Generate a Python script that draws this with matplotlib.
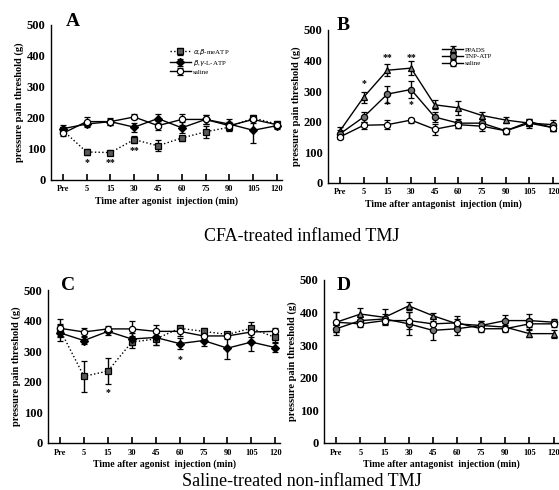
import matplotlib.pyplot as plt
import numpy as np

plt.rcParams['font.family'] = ['Liberation Serif', 'DejaVu Serif']

times = ['Pre', '5', '15', '30', '45', '60', '75', '90', '105', '120']

# Panel A: CFA-treated, agonists
a_me = [160, 90, 88, 130, 110, 135, 155, 170, 200, 180]
a_me_err = [12, 10, 8, 12, 18, 8, 20, 12, 10, 10]
a_bg = [165, 180, 188, 170, 198, 168, 195, 180, 160, 175]
a_bg_err = [12, 10, 10, 15, 15, 18, 15, 18, 40, 10]
a_sal = [150, 188, 188, 203, 175, 195, 195, 175, 195, 178]
a_sal_err = [10, 15, 12, 8, 15, 18, 15, 12, 10, 10]

# Panel B: CFA-treated, antagonists
b_ppads = [170, 280, 368, 375, 255, 245, 220, 205, 195, 180]
b_ppads_err = [12, 18, 20, 22, 15, 22, 12, 10, 10, 12]
b_tnp = [160, 215, 290, 305, 215, 195, 195, 170, 195, 190]
b_tnp_err = [12, 15, 28, 28, 15, 15, 15, 10, 15, 15]
b_sal = [150, 188, 190, 205, 175, 190, 185, 170, 200, 180]
b_sal_err = [8, 12, 15, 8, 18, 12, 15, 10, 10, 12]

# Panel C: saline-treated, agonists
c_me = [370, 218, 235, 330, 340, 375, 365, 355, 375, 345]
c_me_err = [20, 50, 42, 20, 20, 8, 10, 8, 20, 15]
c_bg = [360, 335, 365, 340, 345, 325, 335, 310, 330, 312]
c_bg_err = [25, 12, 12, 20, 25, 18, 18, 35, 30, 15]
c_sal = [375, 363, 373, 373, 365, 365, 350, 350, 363, 365]
c_sal_err = [30, 12, 10, 25, 20, 15, 10, 10, 15, 10]

# Panel D: saline-treated, antagonists
d_ppads = [370, 395, 385, 420, 390, 365, 360, 355, 335, 335]
d_ppads_err = [30, 20, 25, 12, 8, 15, 15, 12, 10, 12]
d_tnp = [350, 375, 380, 365, 345, 350, 360, 375, 375, 370]
d_tnp_err = [18, 15, 15, 35, 30, 18, 15, 18, 20, 10]
d_sal = [370, 365, 375, 375, 365, 368, 350, 350, 365, 365]
d_sal_err = [30, 10, 12, 25, 20, 20, 10, 10, 15, 10]

x = np.arange(len(times))
W, H = 559.0, 490.0

fig = plt.figure(figsize=(5.59, 4.9), dpi=100)
axA = fig.add_axes([0.091, 0.633, 0.413, 0.316])
axB = fig.add_axes([0.587, 0.627, 0.411, 0.312])
axC = fig.add_axes([0.086, 0.096, 0.415, 0.312])
axD = fig.add_axes([0.580, 0.096, 0.419, 0.333])


def series(ax, y, err, marker, fc, ls='-', label=None):
	ax.errorbar(x, y, yerr=err, color='black', ls=ls, lw=1.0, marker=marker,
		ms=4.5, mfc=fc, mec='black', mew=0.9, capsize=2.5, elinewidth=1.0,
		label=label)


def style(ax, xlabel):
	ax.set_xlim(-0.5, 9.2)
	ax.set_ylim(0, 500)
	ax.set_xticks(x)
	ax.set_xticklabels(times, fontsize=6, fontweight='bold')
	ax.set_yticks([0, 100, 200, 300, 400, 500])
	ax.set_yticklabels(['0', '100', '200', '300', '400', '500'], fontsize=9, fontweight='bold')
	ax.tick_params(axis='x', direction='in', length=4, width=1.2, pad=4)
	ax.tick_params(axis='y', length=0, pad=4)
	for s in ['top', 'right']:
		ax.spines[s].set_visible(False)
	ax.spines['left'].set_linewidth(1.0)
	ax.spines['bottom'].set_linewidth(1.0)
	ax.set_xlabel(xlabel, fontsize=7, fontweight='bold', labelpad=2)
	ax.set_ylabel('pressure pain threshold (g)', fontsize=7.5, fontweight='bold', labelpad=2)


def leg(ax, x0, y0):
	ax.legend(loc='upper left', bbox_to_anchor=(x0, y0), frameon=False,
		fontsize=5, handlelength=3, labelspacing=0.15, handletextpad=0.3,
		borderpad=0, borderaxespad=0)


# A
series(axA, a_me, a_me_err, 's', '0.35', ls=':', label=r'$\alpha$,$\beta$-meATP')
series(axA, a_bg, a_bg_err, 'D', 'black', label=r'$\beta$,$\gamma$-L-ATP')
series(axA, a_sal, a_sal_err, 'o', 'white', label='saline')
style(axA, 'Time after agonist  injection (min)')
leg(axA, 0.515, 0.86)
for xi, s, yy in [(1, '*', 55), (2, '**', 55), (3, '**', 94)]:
	axA.text(xi, yy, s, ha='center', va='center', fontsize=7, fontweight='bold')

# B
series(axB, b_ppads, b_ppads_err, '^', '0.5', label='PPADS')
series(axB, b_tnp, b_tnp_err, 'o', '0.45', label='TNP-ATP')
series(axB, b_sal, b_sal_err, 'o', 'white', label='saline')
style(axB, 'Time after antagonist  injection (min)')
leg(axB, 0.496, 0.89)
for xi, s, yy in [(1, '*', 325), (2, '**', 410), (2, '*', 255), (3, '**', 410), (3, '*', 255)]:
	axB.text(xi, yy, s, ha='center', va='center', fontsize=7, fontweight='bold')

# C
series(axC, c_me, c_me_err, 's', '0.35', ls=':')
series(axC, c_bg, c_bg_err, 'D', 'black')
series(axC, c_sal, c_sal_err, 'o', 'white')
style(axC, 'Time after agonist  injection (min)')
for xi, s, yy in [(2, '*', 165), (5, '*', 272)]:
	axC.text(xi, yy, s, ha='center', va='center', fontsize=7, fontweight='bold')

# D
series(axD, d_ppads, d_ppads_err, '^', '0.5')
series(axD, d_tnp, d_tnp_err, 'o', '0.45')
series(axD, d_sal, d_sal_err, 'o', 'white')
style(axD, 'Time after antagonist  injection (min)')

# panel letters
for letter, px, py in [('A', 66, 22), ('B', 337, 25), ('C', 61, 285), ('D', 337, 285)]:
	fig.text(px / W, 1 - py / H, letter, ha='left', va='center', fontsize=14, fontweight='bold')

fig.text(0.54, 0.518, 'CFA-treated inflamed TMJ', ha='center', va='center', fontsize=13)
fig.text(0.54, 1 - 481 / H, 'Saline-treated non-inflamed TMJ', ha='center', va='center', fontsize=13)

fig.savefig('out.png', dpi=100)
